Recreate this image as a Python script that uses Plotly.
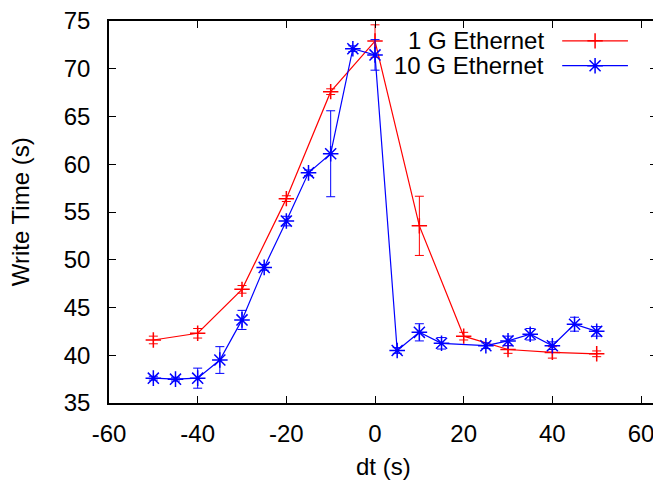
import plotly.graph_objects as go

# ---- data ----
x_1g = [-50, -40, -30, -20, -10, 0, 10, 20, 30, 40, 50]
y_1g = [41.6, 42.3, 46.9, 56.4, 67.6, 72.9, 53.55, 42.0, 40.6, 40.3, 40.15]
e_1g = [0.4, 0.5, 0.4, 0.3, 0.3, 1.7, 3.1, 0.4, 0.4, 0.6, 0.3]

x_10g = [-50, -45, -40, -35, -30, -25, -20, -15, -10, -5, 0, 5, 10, 15, 25, 30, 35, 40, 45, 50]
y_10g = [37.6, 37.5, 37.6, 39.5, 43.7, 49.2, 54.05, 59.1, 61.1, 72.1, 71.45,
         40.5, 42.4, 41.25, 41.0, 41.5, 42.2, 41.0, 43.25, 42.5]
e_10g = [0.2, 0.2, 1.05, 1.4, 1.0, 0.3, 0.5, 0.3, 4.5, 0.3, 1.6,
         0.3, 0.9, 0.6, 0.3, 0.5, 0.6, 0.4, 0.73, 0.5]

names = ["1 G Ethernet", "10 G Ethernet"]
colors = ["#ff0000", "#0000ff"]
symbols = ["cross-thin-open", "asterisk-open"]
msizes = [11, 13]

x_ticks = [-60, -40, -20, 0, 20, 40, 60]
x_ticktext = ["-60", "-40", "-20", "0", "20", "40", "60"]
y_ticks = [35, 40, 45, 50, 55, 60, 65, 70, 75]
y_ticktext = ["35", "40", "45", "50", "55", "60", "65", "70", "75"]

FONT = "Liberation Sans, Arial, sans-serif"
FS = 24

fig = go.Figure()
for xs, ys, es, nm, c, s, ms in [
    (x_1g, y_1g, e_1g, names[0], colors[0], symbols[0], msizes[0]),
    (x_10g, y_10g, e_10g, names[1], colors[1], symbols[1], msizes[1]),
]:
    fig.add_trace(go.Scatter(
        x=xs, y=ys, name=nm, mode="lines+markers",
        line=dict(color=c, width=1.2),
        marker=dict(symbol=s, size=ms, color=c, line=dict(color=c, width=1.5)),
        error_y=dict(type="data", array=es, visible=True, color=c,
                     thickness=1, width=4.5),
        showlegend=False,
    ))

# ---- manual gnuplot-style legend (text, then sample) ----
leg_x0, leg_x1, leg_xm = 0.827, 0.947, 0.887
leg_rows = [0.948, 0.883]
for nm, c, s, ms, ry in zip(names, colors, symbols, msizes, leg_rows):
    fig.add_annotation(xref="paper", yref="paper", x=0.797, y=ry,
                       text=nm, showarrow=False, xanchor="right", yanchor="middle",
                       font=dict(family=FONT, size=FS, color="black"))
    fig.add_shape(type="line", xref="paper", yref="paper",
                  x0=leg_x0, x1=leg_x1, y0=ry, y1=ry,
                  line=dict(color=c, width=1.2))
    fig.add_trace(go.Scatter(
        x=[leg_xm], y=[ry], xaxis="x2", yaxis="y2", mode="markers",
        marker=dict(symbol=s, size=ms, color=c, line=dict(color=c, width=1.5)),
        showlegend=False, hoverinfo="skip"))

axis_common = dict(
    showline=True, linecolor="black", linewidth=1.5, mirror="ticks",
    ticks="inside", ticklen=7, tickwidth=1.2, tickcolor="black",
    showgrid=False, zeroline=False, automargin=False,
    ticklabeloverflow="allow",
    tickfont=dict(family=FONT, size=FS, color="black"),
)

# page body has an 8px margin: shift plot area accordingly
fig.update_layout(
    width=661, height=480,
    margin=dict(l=101, r=12, t=13, b=85),
    paper_bgcolor="white", plot_bgcolor="white",
    xaxis=dict(range=[-60, 63.6], tickvals=x_ticks, ticktext=x_ticktext,
               ticklabelstandoff=8, **axis_common),
    yaxis=dict(range=[35, 75], tickvals=y_ticks, ticktext=y_ticktext,
               ticklabelstandoff=12, **axis_common),
    xaxis2=dict(overlaying="x", range=[0, 1], visible=False),
    yaxis2=dict(overlaying="y", range=[0, 1], visible=False),
    annotations=list(fig.layout.annotations) + [
        dict(xref="paper", yref="paper", x=0.5, y=-0.165, text="dt (s)",
             showarrow=False, xanchor="center", yanchor="middle",
             font=dict(family=FONT, size=FS, color="black")),
        dict(xref="paper", yref="paper", x=-0.162, y=0.5, text="Write Time (s)",
             showarrow=False, textangle=-90, xanchor="center", yanchor="middle",
             font=dict(family=FONT, size=FS, color="black")),
    ],
)

fig.write_html("out.html")
